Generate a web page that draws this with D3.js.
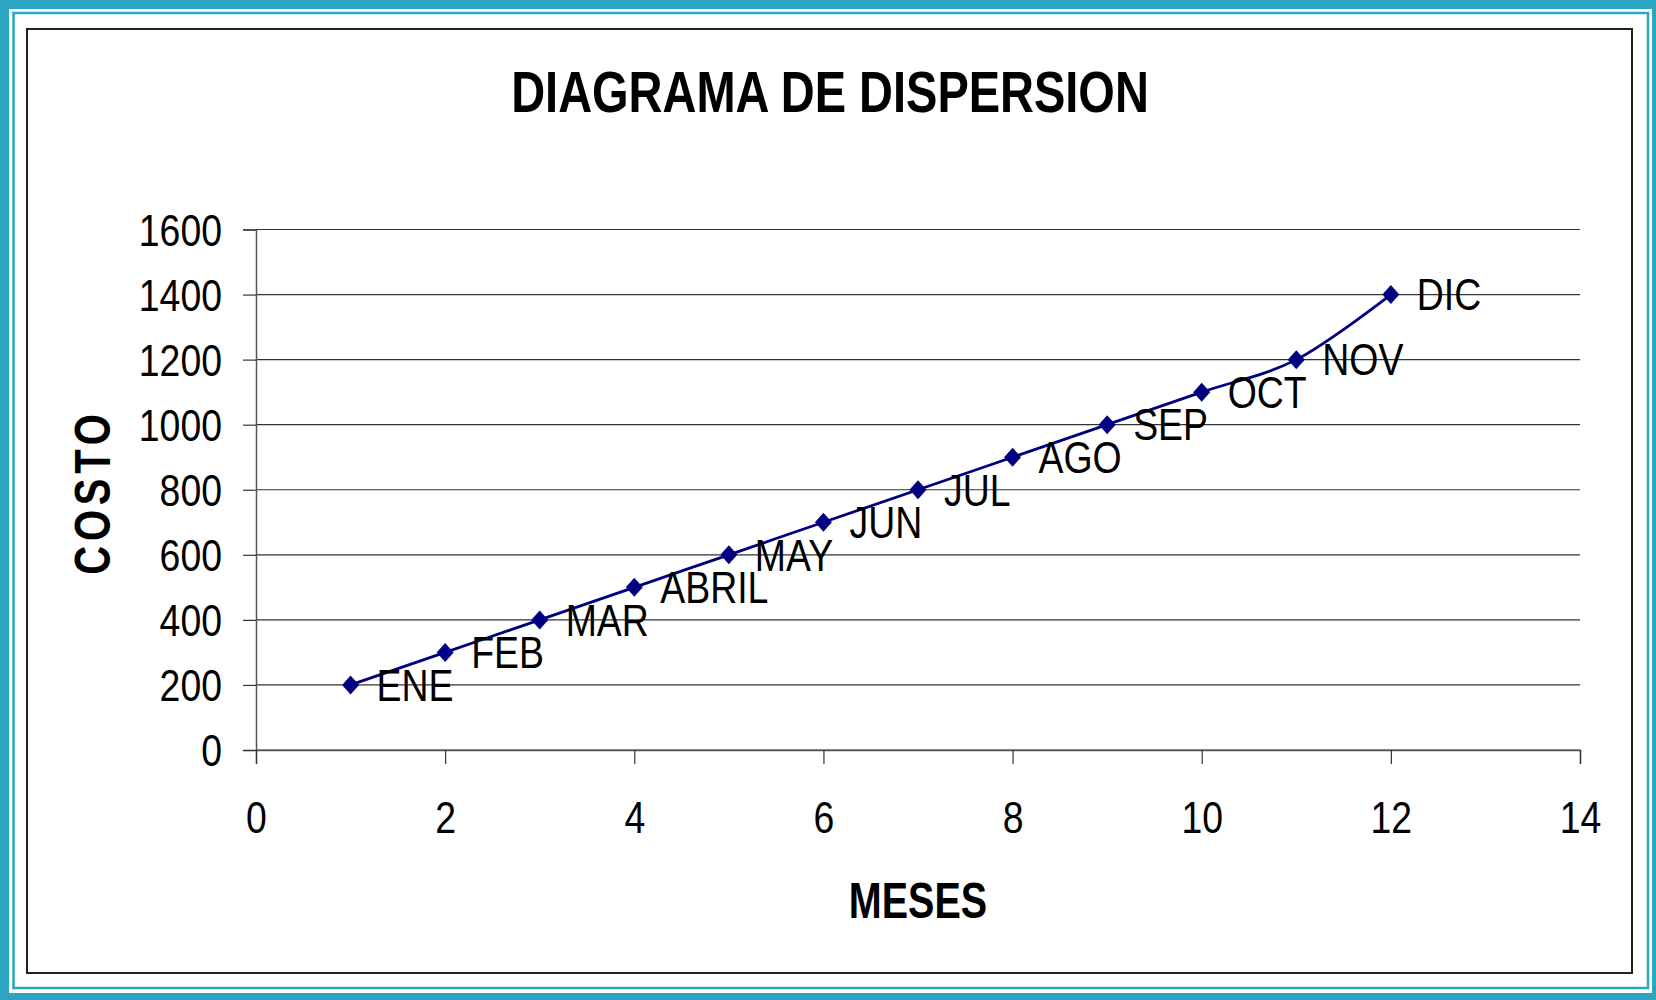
<!DOCTYPE html>
<html>
<head>
<meta charset="utf-8">
<script src="https://cdn.jsdelivr.net/npm/d3@7"></script>
<style>
body { margin: 0; background: #fff; }
text { font-family: "Liberation Sans", Arial, sans-serif; fill: #000; }
</style>
</head>
<body>
<script>
var width = 1656, height = 1000;

// datos
var meses = ["ENE", "FEB", "MAR", "ABRIL", "MAY", "JUN", "JUL", "AGO", "SEP", "OCT", "NOV", "DIC"];
var numMes = [1, 2, 3, 4, 5, 6, 7, 8, 9, 10, 11, 12];
var costo = [200, 300, 400, 500, 600, 700, 800, 900, 1000, 1100, 1200, 1400];
var xTicks = [0, 2, 4, 6, 8, 10, 12, 14];
var yTicks = [0, 200, 400, 600, 800, 1000, 1200, 1400, 1600];

var details = numMes.map(function(m, i){ return {mes: m, costo: costo[i], label: meses[i]}; });

var teal = "#2ba5c1", navy = "#000080";
var sx = 0.85; // letra estrecha

var svg = d3.select("body").append("svg")
            .attr("width", width).attr("height", height);

// marco
svg.append("rect").attr("width", width).attr("height", height).attr("fill", teal);
svg.append("rect").attr("x", 9).attr("y", 9).attr("width", 1643).attr("height", 984).attr("fill", "#fff");
svg.append("rect").attr("x", 13.5).attr("y", 13).attr("width", 1634.5).attr("height", 975)
   .attr("fill", "none").attr("stroke", teal).attr("stroke-width", 2.5);
svg.append("rect").attr("x", 27).attr("y", 29).attr("width", 1605).attr("height", 944)
   .attr("fill", "#fff").attr("stroke", "#222").attr("stroke-width", 2);

var x = d3.scaleLinear().domain([0, 14]).range([256, 1580]);
var y = d3.scaleLinear().domain([0, 1600]).range([750, 229.5]);

// lineas de division
svg.append("g").selectAll("line").data(yTicks).enter().append("line")
   .attr("x1", x(0)).attr("x2", x(14))
   .attr("y1", function(d){ return y(d); }).attr("y2", function(d){ return y(d); })
   .attr("stroke", "#333").attr("stroke-width", 1.2);

// eje y
var yAxis = svg.append("g").attr("transform", "translate(" + x(0) + ",0)")
   .call(d3.axisLeft(y).tickValues(yTicks).tickSize(13).tickPadding(0).tickFormat(d3.format("d")));
yAxis.select(".domain").attr("stroke", "#555").attr("stroke-width", 1.5);
yAxis.selectAll(".tick line").attr("stroke", "#333").attr("stroke-width", 1.2);
yAxis.selectAll(".tick text").attr("x", null).attr("dy", null)
   .attr("font-size", 44).attr("font-family", null).attr("text-anchor", "end")
   .attr("transform", "translate(-34,0) scale(" + sx + ",1) translate(0,15.8)");

// eje x
var xAxis = svg.append("g").attr("transform", "translate(0," + y(0) + ")")
   .call(d3.axisBottom(x).tickValues(xTicks).tickSize(14).tickPadding(0).tickFormat(d3.format("d")));
xAxis.select(".domain").attr("stroke", "#555").attr("stroke-width", 1.5);
xAxis.selectAll(".tick line").attr("stroke", "#333").attr("stroke-width", 1.2);
xAxis.selectAll(".tick text").attr("y", null).attr("dy", null)
   .attr("font-size", 44).attr("font-family", null)
   .attr("transform", "translate(0,83) scale(" + sx + ",1)");

// linea suavizada
var line = d3.line()
   .x(function(d){ return x(d.mes); })
   .y(function(d){ return y(d.costo); })
   .curve(d3.curveCatmullRom.alpha(0));
svg.append("path").datum(details).attr("d", line)
   .attr("fill", "none").attr("stroke", navy).attr("stroke-width", 2.8);

// marcadores rombo
svg.append("g").selectAll("path").data(details).enter().append("path")
   .attr("d", "M0,-9.5L8.5,0L0,9.5L-8.5,0Z")
   .attr("transform", function(d){ return "translate(" + x(d.mes) + "," + y(d.costo) + ")"; })
   .attr("fill", navy);

// etiquetas
svg.append("g").selectAll("text").data(details).enter().append("text")
   .attr("font-size", 44)
   .attr("transform", function(d){
       return "translate(" + (x(d.mes) + 26) + "," + (y(d.costo) + 15.8) + ") scale(" + sx + ",1)";
   })
   .text(function(d){ return d.label; });

// titulos
svg.append("text").attr("text-anchor", "middle").attr("font-weight", "bold").attr("font-size", 58)
   .attr("transform", "translate(830,112) scale(0.81,1)")
   .text("DIAGRAMA DE DISPERSION");

svg.append("text").attr("text-anchor", "middle").attr("font-weight", "bold").attr("font-size", 50)
   .attr("transform", "translate(918,918) scale(0.79,1)")
   .text("MESES");

svg.append("text").attr("text-anchor", "middle").attr("font-weight", "bold").attr("font-size", 50)
   .attr("letter-spacing", 6)
   .attr("transform", "translate(110,492) rotate(-90) scale(0.8,1)")
   .text("COSTO");
</script>
</body>
</html>
